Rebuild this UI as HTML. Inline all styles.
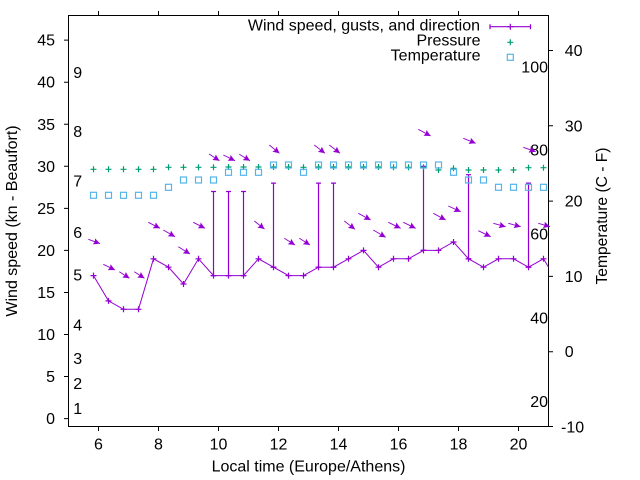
<!DOCTYPE html>
<html>
<head>
<meta charset="utf-8">
<style>
  html,body{margin:0;padding:0;background:#fff;}
  svg{display:block;}
  text{font-family:"Liberation Sans",Arial,sans-serif;font-size:16px;fill:#000;}
</style>
</head>
<body>
<svg width="640" height="480" viewBox="0 0 640 480" xmlns="http://www.w3.org/2000/svg">
  <defs>
    <path id="pl" d="M-3,0h6M0,-3v6"/>
    <rect id="sq" x="-3" y="-3" width="6" height="6" fill="none"/>
    <clipPath id="clip"><rect x="68.5" y="15.5" width="480" height="411"/></clipPath>
    <marker id="ah" viewBox="0 0 10 10" refX="10" refY="5" markerWidth="7" markerHeight="6.5" orient="auto" markerUnits="userSpaceOnUse">
      <path d="M0,0 L10,5 L0,10 L1.5,5 z" fill="#9400d3"/>
    </marker>
  </defs>

  <rect width="640" height="480" fill="#fff"/>

  <!-- Border -->
  <rect x="68.5" y="15.5" width="480" height="411" fill="none" stroke="#000" stroke-width="1"/>

  <!-- Ticks -->
  <g stroke="#000" stroke-width="1">
    <path d="M64,418.6h4.5M64,376.55h4.5M64,334.5h4.5M64,292.45h4.5M64,250.4h4.5M64,208.35h4.5M64,166.3h4.5M64,124.25h4.5M64,82.2h4.5M64,40.15h4.5"/>
    <path d="M548.5,426.5h4.5M548.5,351.7h4.5M548.5,276.4h4.5M548.5,201.1h4.5M548.5,125.8h4.5M548.5,50.5h4.5"/>
    <path d="M98.5,426.5v4.5M158.5,426.5v4.5M218.5,426.5v4.5M278.5,426.5v4.5M338.5,426.5v4.5M398.5,426.5v4.5M458.5,426.5v4.5M518.5,426.5v4.5"/>
    <path d="M98.5,15.5v-4.5M158.5,15.5v-4.5M218.5,15.5v-4.5M278.5,15.5v-4.5M338.5,15.5v-4.5M398.5,15.5v-4.5M458.5,15.5v-4.5M518.5,15.5v-4.5"/>
  </g>

  <!-- Left tick labels -->
  <g text-anchor="end">
    <text x="55" y="424.1">0</text>
    <text x="55" y="382.05">5</text>
    <text x="55" y="340">10</text>
    <text x="55" y="297.95">15</text>
    <text x="55" y="255.9">20</text>
    <text x="55" y="213.85">25</text>
    <text x="55" y="171.8">30</text>
    <text x="55" y="129.75">35</text>
    <text x="55" y="87.7">40</text>
    <text x="55" y="45.65">45</text>
  </g>

  <!-- Right tick labels -->
  <g>
    <text x="561" y="432.5">-10</text>
    <text x="564.7" y="357.2">0</text>
    <text x="564.7" y="281.9">10</text>
    <text x="564.7" y="206.6">20</text>
    <text x="564.7" y="131.3">30</text>
    <text x="564.7" y="56">40</text>
  </g>

  <!-- X tick labels -->
  <g text-anchor="middle">
    <text x="98.5" y="449.5">6</text>
    <text x="158.5" y="449.5">8</text>
    <text x="218.5" y="449.5">10</text>
    <text x="278.5" y="449.5">12</text>
    <text x="338.5" y="449.5">14</text>
    <text x="398.5" y="449.5">16</text>
    <text x="458.5" y="449.5">18</text>
    <text x="518.5" y="449.5">20</text>
  </g>

  <!-- Axis labels -->
  <text x="308.5" y="471.7" text-anchor="middle">Local time (Europe/Athens)</text>
  <text transform="translate(17,221) rotate(-90)" x="0" y="0" text-anchor="middle">Wind speed (kn - Beaufort)</text>
  <text transform="translate(607,216) rotate(-90)" x="0" y="0" text-anchor="middle" textLength="137" lengthAdjust="spacingAndGlyphs">Temperature (C - F)</text>

  <!-- Beaufort labels inside left -->
  <g>
    <text x="73.3" y="78.2">9</text>
    <text x="73.3" y="137.2">8</text>
    <text x="73.3" y="186.7">7</text>
    <text x="73.3" y="238.2">6</text>
    <text x="73.3" y="280.4">5</text>
    <text x="73.3" y="330.4">4</text>
    <text x="73.3" y="364">3</text>
    <text x="73.3" y="389">2</text>
    <text x="73.3" y="414">1</text>
  </g>

  <!-- Fahrenheit labels inside right -->
  <g text-anchor="end">
    <text x="548" y="72.7">100</text>
    <text x="548" y="155.4">80</text>
    <text x="548" y="239.4">60</text>
    <text x="548" y="323.7">40</text>
    <text x="548" y="407">20</text>
  </g>

  <!-- Wind speed series -->
  <g clip-path="url(#clip)" stroke="#9400d3" fill="none">
    <polyline stroke-width="1" points="93.5,275.6 108.5,300.9 123.5,309.3 138.5,309.3 153.5,258.8 168.5,267.2 183.5,284 198.5,258.8 213.5,275.6 228.5,275.6 243.5,275.6 258.5,258.8 273.5,267.2 288.5,275.6 303.5,275.6 318.5,267.2 333.5,267.2 348.5,258.8 363.5,250.4 378.5,267.2 393.5,258.8 408.5,258.8 423.5,250.4 438.5,250.4 453.5,242 468.5,258.8 483.5,267.2 498.5,258.8 513.5,258.8 528.5,267.2 543.5,258.8 558.5,284"/>
    <path stroke-width="1.2" d="
      M213.5,275.6V191.5M211,191.5h5M211,275.6h5
      M228.5,275.6V191.5M226,191.5h5M226,275.6h5
      M243.5,275.6V191.5M241,191.5h5M241,275.6h5
      M273.5,267.2V183.1M271,183.1h5M271,267.2h5
      M318.5,267.2V183.1M316,183.1h5M316,267.2h5
      M333.5,267.2V183.1M331,183.1h5M331,267.2h5
      M423.5,250.4V166.3M421,166.3h5M421,250.4h5
      M468.5,258.8V174.7M466,174.7h5M466,258.8h5
      M528.5,267.2V183.1M526,183.1h5M526,267.2h5"/>
    <g stroke-width="1.2">
      <use href="#pl" x="93.5" y="275.6"/><use href="#pl" x="108.5" y="300.9"/><use href="#pl" x="123.5" y="309.3"/><use href="#pl" x="138.5" y="309.3"/>
      <use href="#pl" x="153.5" y="258.8"/><use href="#pl" x="168.5" y="267.2"/><use href="#pl" x="183.5" y="284"/><use href="#pl" x="198.5" y="258.8"/>
      <use href="#pl" x="213.5" y="275.6"/><use href="#pl" x="228.5" y="275.6"/><use href="#pl" x="243.5" y="275.6"/><use href="#pl" x="258.5" y="258.8"/>
      <use href="#pl" x="273.5" y="267.2"/><use href="#pl" x="288.5" y="275.6"/><use href="#pl" x="303.5" y="275.6"/><use href="#pl" x="318.5" y="267.2"/>
      <use href="#pl" x="333.5" y="267.2"/><use href="#pl" x="348.5" y="258.8"/><use href="#pl" x="363.5" y="250.4"/><use href="#pl" x="378.5" y="267.2"/>
      <use href="#pl" x="393.5" y="258.8"/><use href="#pl" x="408.5" y="258.8"/><use href="#pl" x="423.5" y="250.4"/><use href="#pl" x="438.5" y="250.4"/>
      <use href="#pl" x="453.5" y="242"/><use href="#pl" x="468.5" y="258.8"/><use href="#pl" x="483.5" y="267.2"/><use href="#pl" x="498.5" y="258.8"/>
      <use href="#pl" x="513.5" y="258.8"/><use href="#pl" x="528.5" y="267.2"/><use href="#pl" x="543.5" y="258.8"/>
    </g>
  </g>

  <!-- Wind direction arrows -->
  <g stroke="#9400d3" stroke-width="0.9" marker-end="url(#ah)">
    <line x1="88.3" y1="239.3" x2="100" y2="243.6"/>
    <line x1="103.3" y1="264.3" x2="115" y2="270"/>
    <line x1="119.3" y1="271.7" x2="129.5" y2="278.3"/>
    <line x1="134.3" y1="271.7" x2="144.5" y2="278.3"/>
    <line x1="148.3" y1="222.3" x2="160" y2="228.3"/>
    <line x1="163.3" y1="230" x2="175" y2="236.7"/>
    <line x1="178.3" y1="246.7" x2="190" y2="254"/>
    <line x1="193.3" y1="222.3" x2="205" y2="228.3"/>
    <line x1="209" y1="154" x2="219.5" y2="160.7"/>
    <line x1="223.3" y1="155" x2="235" y2="160.7"/>
    <line x1="239.3" y1="154.3" x2="250" y2="160.7"/>
    <line x1="254.3" y1="221" x2="264.5" y2="229"/>
    <line x1="269.3" y1="145" x2="279.5" y2="153.3"/>
    <line x1="284.3" y1="238.3" x2="295" y2="245"/>
    <line x1="299.3" y1="238.3" x2="310" y2="245"/>
    <line x1="314.3" y1="145" x2="325" y2="153.3"/>
    <line x1="329.3" y1="145" x2="340" y2="153.3"/>
    <line x1="344.3" y1="221" x2="355" y2="229.3"/>
    <line x1="358.3" y1="213.3" x2="370.7" y2="220"/>
    <line x1="373.3" y1="230" x2="385.7" y2="237.3"/>
    <line x1="388.3" y1="222.3" x2="400.7" y2="228.3"/>
    <line x1="403.3" y1="222.3" x2="415.7" y2="228.3"/>
    <line x1="418.3" y1="129.3" x2="430.7" y2="136"/>
    <line x1="433.3" y1="213.3" x2="445.7" y2="220"/>
    <line x1="448.3" y1="206" x2="460.7" y2="211.7"/>
    <line x1="463.3" y1="138.3" x2="475.7" y2="143.3"/>
    <line x1="478.3" y1="230.7" x2="490.7" y2="236.7"/>
    <line x1="493.3" y1="223.3" x2="505.7" y2="226.7"/>
    <line x1="508.3" y1="223.3" x2="520.7" y2="226.7"/>
    <line x1="523.3" y1="147.3" x2="535.7" y2="151.7"/>
    <line x1="538.3" y1="223.3" x2="550" y2="226.7"/>
  </g>

  <!-- Pressure -->
  <g stroke="#009e73" stroke-width="1.2" fill="none">
    <use href="#pl" x="93.5" y="169.3"/><use href="#pl" x="108.5" y="169.3"/><use href="#pl" x="123.5" y="169.3"/><use href="#pl" x="138.5" y="169.3"/><use href="#pl" x="153.5" y="169.3"/>
    <use href="#pl" x="168.5" y="167.3"/><use href="#pl" x="183.5" y="167.3"/><use href="#pl" x="198.5" y="167.3"/><use href="#pl" x="213.5" y="167.3"/><use href="#pl" x="228.5" y="167"/>
    <use href="#pl" x="243.5" y="167"/><use href="#pl" x="258.5" y="167"/><use href="#pl" x="273.5" y="167"/><use href="#pl" x="288.5" y="167"/><use href="#pl" x="303.5" y="167.3"/>
    <use href="#pl" x="318.5" y="167"/><use href="#pl" x="333.5" y="167"/><use href="#pl" x="348.5" y="167"/><use href="#pl" x="363.5" y="167"/><use href="#pl" x="378.5" y="167"/>
    <use href="#pl" x="393.5" y="167.3"/><use href="#pl" x="408.5" y="167.3"/><use href="#pl" x="423.5" y="167.3"/><use href="#pl" x="438.5" y="170"/><use href="#pl" x="453.5" y="168.3"/>
    <use href="#pl" x="468.5" y="170"/><use href="#pl" x="483.5" y="170"/><use href="#pl" x="498.5" y="170"/><use href="#pl" x="513.5" y="170"/><use href="#pl" x="528.5" y="167.7"/>
    <use href="#pl" x="543.5" y="167.7"/>
  </g>

  <!-- Temperature -->
  <g stroke="#56b4e9" stroke-width="1.2" fill="none">
    <use href="#sq" x="93.5" y="195.3"/><use href="#sq" x="108.5" y="195.3"/><use href="#sq" x="123.5" y="195.3"/><use href="#sq" x="138.5" y="195.3"/><use href="#sq" x="153.5" y="195.3"/>
    <use href="#sq" x="168.5" y="187.3"/><use href="#sq" x="183.5" y="180"/><use href="#sq" x="198.5" y="180"/><use href="#sq" x="213.5" y="180"/><use href="#sq" x="228.5" y="172.3"/>
    <use href="#sq" x="243.5" y="172.3"/><use href="#sq" x="258.5" y="172.3"/><use href="#sq" x="273.5" y="165"/><use href="#sq" x="288.5" y="165"/><use href="#sq" x="303.5" y="172.3"/>
    <use href="#sq" x="318.5" y="165"/><use href="#sq" x="333.5" y="165"/><use href="#sq" x="348.5" y="165"/><use href="#sq" x="363.5" y="165"/><use href="#sq" x="378.5" y="165"/>
    <use href="#sq" x="393.5" y="165"/><use href="#sq" x="408.5" y="165"/><use href="#sq" x="423.5" y="165"/><use href="#sq" x="438.5" y="165"/><use href="#sq" x="453.5" y="172.3"/>
    <use href="#sq" x="468.5" y="180"/><use href="#sq" x="483.5" y="180"/><use href="#sq" x="498.5" y="187.3"/><use href="#sq" x="513.5" y="187.3"/><use href="#sq" x="528.5" y="187.3"/>
    <use href="#sq" x="543.5" y="187.3"/>
  </g>

  <!-- Legend -->
  <g text-anchor="end">
    <text x="480" y="30.7">Wind speed, gusts, and direction</text>
    <text x="480.5" y="45.7">Pressure</text>
    <text x="480.5" y="60.7">Temperature</text>
  </g>
  <g stroke="#9400d3" stroke-width="1.2" fill="none">
    <path d="M490,26.7H530.5M490,24.2v5M530.5,24.2v5"/>
    <use href="#pl" x="510.3" y="26.7"/>
  </g>
  <use href="#pl" x="510.3" y="42.3" stroke="#009e73" stroke-width="1.2"/>
  <use href="#sq" x="510.3" y="57.3" stroke="#56b4e9" stroke-width="1.2"/>
</svg>
</body>
</html>
